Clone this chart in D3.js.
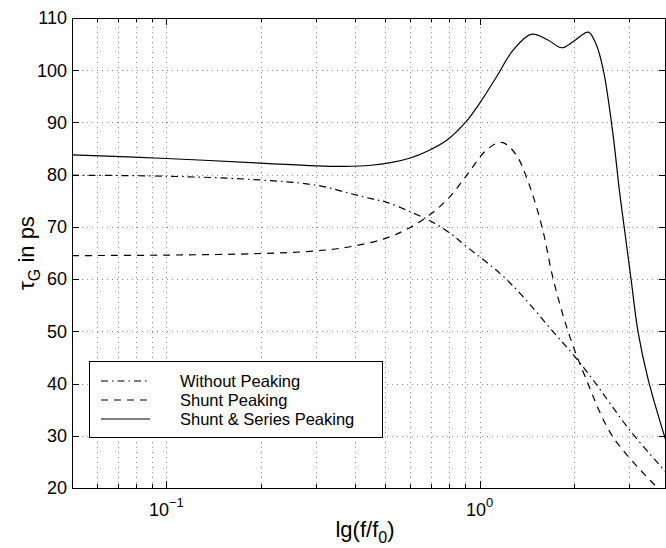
<!DOCTYPE html>
<html>
<head>
<meta charset="utf-8">
<script src="https://cdn.jsdelivr.net/npm/d3@7/dist/d3.min.js"></script>
<style>
  body { margin: 0; background: #fff; }
  text { font-family: "Liberation Sans", Arial, Helvetica, sans-serif; fill: #000; }
</style>
</head>
<body>
<script>
// size of the picture and the plot box
var width = 666,
    height = 548;
var margin = {left: 72, top: 18, right: 0, bottom: 60};

// curve data (frequency normalised to f0, group delay in ps)
var withoutX = [0.05, 0.1, 0.185, 0.3, 0.386, 0.45, 0.5, 0.6, 0.703, 0.804, 0.909, 1.16, 1.377, 1.716, 1.99, 2.3, 3.01, 3.93];
var withoutY = [79.9, 79.7, 79.1, 78.0, 76.4, 75.4, 74.8, 72.9, 71.0, 68.8, 66.2, 61.1, 56.6, 49.9, 45.5, 40.7, 31.1, 23.0];

var shuntX = [0.05, 0.1, 0.2, 0.3, 0.386, 0.5, 0.6, 0.703, 0.804, 0.909, 1.05, 1.175, 1.3, 1.43, 1.58, 1.716, 1.916, 2.17, 2.66, 3.67];
var shuntY = [64.5, 64.6, 64.9, 65.4, 66.2, 67.8, 69.9, 72.6, 75.8, 79.9, 84.7, 86.2, 84.0, 78.5, 70.0, 60.0, 49.9, 41.3, 29.8, 20.2];

var seriesX = [0.05, 0.1, 0.2, 0.3, 0.37, 0.45, 0.52, 0.6, 0.68, 0.785, 0.9, 1.0, 1.133, 1.28, 1.465, 1.65, 1.826, 2.0, 2.22, 2.35, 2.48, 2.66, 2.79, 2.89, 3.04, 3.2, 3.45, 3.93];
var seriesY = [83.8, 83.1, 82.2, 81.7, 81.6, 81.8, 82.3, 83.2, 84.5, 86.6, 90.0, 93.7, 98.8, 103.9, 106.9, 105.8, 104.3, 105.6, 107.3, 105.0, 100.0, 87.9, 77.0, 70.0, 60.0, 49.9, 40.7, 29.0];

var yTicks = [20, 30, 40, 50, 60, 70, 80, 90, 100, 110];
var xMajor = [0.1, 1];
var xMinor = [0.06, 0.07, 0.08, 0.09, 0.2, 0.3, 0.4, 0.5, 0.6, 0.7, 0.8, 0.9, 2, 3];

var legendNames = ['Without Peaking', 'Shunt Peaking', 'Shunt & Series Peaking'];
var dashes = ['7,4,1.5,4', '7,6', null];

var x = d3.scaleLog()
    .domain([0.05, 3.93])
    .range([margin.left, width - margin.right]);

var y = d3.scaleLinear()
    .domain([20, 110])
    .range([height - margin.bottom, margin.top]);

var svg = d3.select('body')
    .append('svg')
    .attr('width', width)
    .attr('height', height);

var x0 = x.range()[0], x1 = x.range()[1],
    y0 = y.range()[0], y1 = y.range()[1];

svg.append('clipPath').attr('id', 'plot')
  .append('rect')
    .attr('x', x0).attr('y', y1)
    .attr('width', x1 - x0).attr('height', y0 - y1);

// dotted grid
var grid = svg.append('g')
    .attr('stroke', '#8a8a8a')
    .attr('stroke-width', 1)
    .attr('stroke-dasharray', '1,4');

grid.selectAll('.gx')
    .data(xMinor.concat(xMajor))
  .enter().append('line')
    .attr('x1', function(d) { return Math.round(x(d)) + 0.5; })
    .attr('x2', function(d) { return Math.round(x(d)) + 0.5; })
    .attr('y1', y0).attr('y2', y1);

grid.selectAll('.gy')
    .data(yTicks.slice(1, -1))
  .enter().append('line')
    .attr('y1', function(d) { return Math.round(y(d)) + 0.5; })
    .attr('y2', function(d) { return Math.round(y(d)) + 0.5; })
    .attr('x1', x0).attr('x2', x1);

// inward ticks on all four sides
var ticks = svg.append('g').attr('stroke', '#000').attr('stroke-width', 1);

function xTick(d, len) {
  var px = Math.round(x(d)) + 0.5;
  ticks.append('line').attr('x1', px).attr('x2', px).attr('y1', y0).attr('y2', y0 - len);
  ticks.append('line').attr('x1', px).attr('x2', px).attr('y1', y1).attr('y2', y1 + len);
}
xMajor.forEach(function(d) { xTick(d, 7); });
xMinor.forEach(function(d) { xTick(d, 4); });

yTicks.forEach(function(d) {
  var py = Math.round(y(d)) + 0.5;
  ticks.append('line').attr('x1', x0).attr('x2', x0 + 7).attr('y1', py).attr('y2', py);
  ticks.append('line').attr('x1', x1).attr('x2', x1 - 7).attr('y1', py).attr('y2', py);
});

// axis box
svg.append('rect')
    .attr('x', x0 + 0.5).attr('y', y1 + 0.5)
    .attr('width', x1 - x0 - 1).attr('height', y0 - y1)
    .attr('fill', 'none')
    .attr('stroke', '#000');

// tick labels
svg.selectAll('.ylab')
    .data(yTicks)
  .enter().append('text')
    .attr('x', x0 - 5)
    .attr('y', function(d) { return y(d); })
    .attr('dy', '0.35em')
    .attr('text-anchor', 'end')
    .style('font-size', '18px')
    .text(function(d) { return d; });

var xlab = svg.selectAll('.xlab')
    .data(xMajor)
  .enter().append('text')
    .attr('x', function(d) { return x(d); })
    .attr('y', y0 + 28)
    .attr('text-anchor', 'middle')
    .style('font-size', '18px');
xlab.append('tspan').text('10');
xlab.append('tspan')
    .attr('dy', -9)
    .style('font-size', '13px')
    .text(function(d) { return Math.round(Math.log10(d)) === 0 ? '0' : '\u22121'; });

// axis titles
var xt = svg.append('text')
    .attr('x', (x0 + x1) / 2 - 4)
    .attr('y', height - 11)
    .attr('text-anchor', 'middle')
    .style('font-size', '22px');
xt.append('tspan').text('lg(f/f');
xt.append('tspan').attr('dy', 6).style('font-size', '16px').text('0');
xt.append('tspan').attr('dy', -6).text(')');

var yt = svg.append('text')
    .attr('transform', 'translate(34,' + ((y0 + y1) / 2) + ') rotate(-90)')
    .attr('text-anchor', 'middle')
    .style('font-size', '22px');
yt.append('tspan').text('\u03c4');
yt.append('tspan').attr('dy', 6).style('font-size', '16px').text('G');
yt.append('tspan').attr('dy', -6).text(' in ps');

// curves
var line = d3.line()
    .x(function(d) { return x(d[0]); })
    .y(function(d) { return y(d[1]); })
    .curve(d3.curveCatmullRom.alpha(0.5));

var series = [
  d3.zip(withoutX, withoutY),
  d3.zip(shuntX, shuntY),
  d3.zip(seriesX, seriesY)
];

svg.append('g')
    .attr('clip-path', 'url(#plot)')
  .selectAll('path')
    .data(series)
  .enter().append('path')
    .attr('d', line)
    .attr('fill', 'none')
    .attr('stroke', '#000')
    .attr('stroke-width', 1.2)
    .attr('stroke-dasharray', function(d, i) { return dashes[i]; });

// legend
var lg = svg.append('g');
lg.append('rect')
    .attr('x', 89.5).attr('y', 361.5)
    .attr('width', 293).attr('height', 76)
    .attr('fill', '#fff')
    .attr('stroke', '#000');

var rows = lg.selectAll('.row')
    .data(legendNames)
  .enter().append('g')
    .attr('transform', function(d, i) { return 'translate(0,' + (381 + i * 19) + ')'; });

rows.append('line')
    .attr('x1', 101).attr('x2', 150)
    .attr('stroke', '#000')
    .attr('stroke-width', 1.2)
    .attr('stroke-dasharray', function(d, i) { return dashes[i]; });

rows.append('text')
    .attr('x', 180)
    .attr('dy', '0.35em')
    .style('font-size', '16.5px')
    .text(function(d) { return d; });
</script>
</body>
</html>
